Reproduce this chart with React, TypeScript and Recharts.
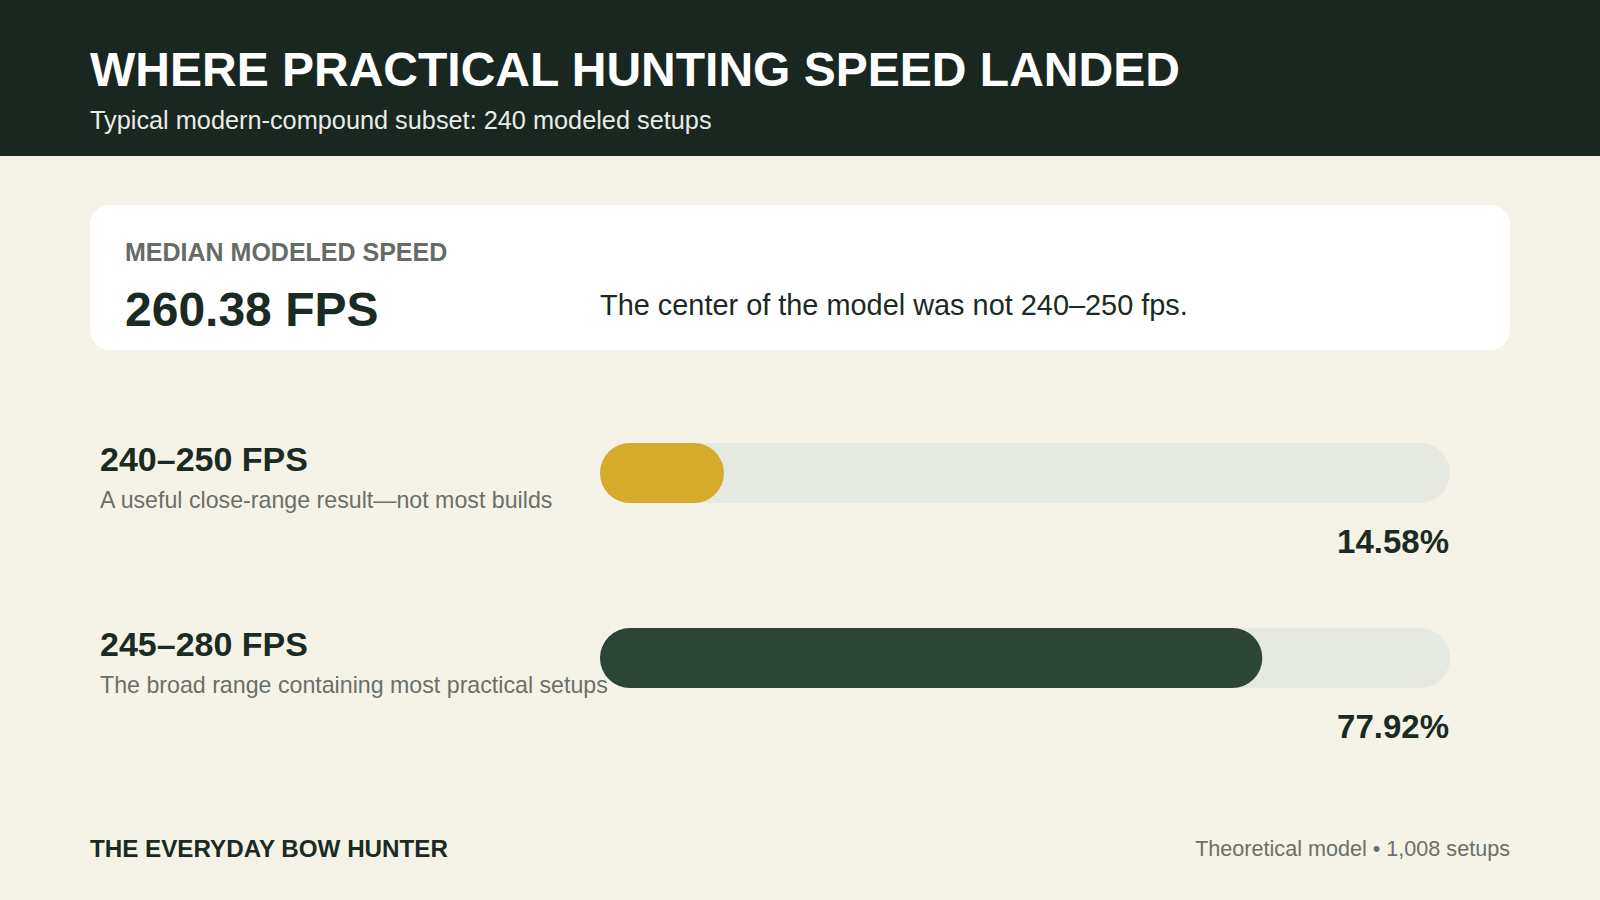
import { BarChart, Bar, XAxis, YAxis, Cell, LabelList } from 'recharts';

const ranges = ['240–250 FPS', '245–280 FPS'];
const notes = [
  'A useful close-range result—not most builds',
  'The broad range containing most practical setups',
];
const shares = [14.58, 77.92];
const barColors = ['#d6aa2a', '#2c4536'];

const data = ranges.map((range, i) => ({ range, note: notes[i], share: shares[i] }));

const FONT = '"Liberation Sans", Arial, Helvetica, sans-serif';
const DARK = '#1b2a22';
const GRAY = '#6b6f69';

// two-line category label on the left of each track
const RangeTick = (props: any) => {
  const { y, payload, index } = props;
  const row = data[index] ?? data.find((d) => d.range === payload.value);
  return (
    <g>
      <text x={100} y={y - 1.5} fill={DARK} fontSize={34} fontWeight={700} fontFamily={FONT}>
        {payload.value}
      </text>
      <text x={100} y={y + 35.5} fill={GRAY} fontSize={23.2} fontFamily={FONT}>
        {row?.note}
      </text>
    </g>
  );
};

const Track = (props: any) => {
  const { x, y, width, height } = props;
  return <rect x={x} y={y} width={width} height={height} rx={height / 2} ry={height / 2} fill="#e6e8e2" />;
};

const PctLabel = (props: any) => {
  const { x, y, width, height, value } = props;
  const trackEnd = x + (width * 100) / value;
  return (
    <text
      x={trackEnd - 1}
      y={y + height + 50}
      textAnchor="end"
      fill={DARK}
      fontSize={33}
      fontWeight={700}
      fontFamily={FONT}
    >
      {value.toFixed(2)}%
    </text>
  );
};

const App = () => {
  return (
    <div
      style={{
        position: 'absolute',
        left: 0,
        top: 0,
        width: 1600,
        height: 900,
        background: '#f5f3e8',
        fontFamily: FONT,
        overflow: 'hidden',
      }}
    >
      {/* Header band */}
      <div style={{ position: 'absolute', left: 0, top: 0, width: 1600, height: 156, background: '#1a2721' }} />
      <div
        style={{
          position: 'absolute',
          left: 90,
          top: 45.5,
          fontSize: 48,
          lineHeight: 1,
          fontWeight: 700,
          color: '#ffffff',
          whiteSpace: 'nowrap',
        }}
      >
        WHERE PRACTICAL HUNTING SPEED LANDED
      </div>
      <div
        style={{
          position: 'absolute',
          left: 90,
          top: 107.5,
          fontSize: 25.3,
          lineHeight: 1,
          color: '#e9ece6',
          whiteSpace: 'nowrap',
        }}
      >
        Typical modern-compound subset: 240 modeled setups
      </div>

      {/* Median card */}
      <div
        style={{
          position: 'absolute',
          left: 90,
          top: 205,
          width: 1420,
          height: 145,
          background: '#ffffff',
          borderRadius: 20,
        }}
      />
      <div
        style={{
          position: 'absolute',
          left: 125,
          top: 240,
          fontSize: 25,
          lineHeight: 1,
          fontWeight: 700,
          color: '#656b65',
          whiteSpace: 'nowrap',
        }}
      >
        MEDIAN MODELED SPEED
      </div>
      <div
        style={{
          position: 'absolute',
          left: 125,
          top: 286,
          fontSize: 48,
          lineHeight: 1,
          fontWeight: 700,
          color: DARK,
          whiteSpace: 'nowrap',
        }}
      >
        260.38 FPS
      </div>
      <div
        style={{
          position: 'absolute',
          left: 600,
          top: 291,
          fontSize: 28.9,
          lineHeight: 1,
          color: DARK,
          whiteSpace: 'nowrap',
        }}
      >
        The center of the model was not 240–250 fps.
      </div>

      {/* Bars */}
      <div style={{ position: 'absolute', left: 0, top: 379.5 }}>
        <BarChart
          width={1600}
          height={370}
          data={data}
          layout="vertical"
          margin={{ top: 0, right: 150, bottom: 0, left: 90 }}
        >
          <XAxis type="number" domain={[0, 100]} hide />
          <YAxis
            type="category"
            dataKey="range"
            width={510}
            axisLine={false}
            tickLine={false}
            tick={<RangeTick />}
          />
          <Bar
            dataKey="share"
            barSize={60}
            radius={30}
            background={<Track />}
            isAnimationActive={false}
          >
            {data.map((_, i) => (
              <Cell key={`cell-${i}`} fill={barColors[i]} />
            ))}
            <LabelList dataKey="share" content={<PctLabel />} />
          </Bar>
        </BarChart>
      </div>

      {/* Footer */}
      <div
        style={{
          position: 'absolute',
          left: 90,
          top: 837,
          fontSize: 24.2,
          lineHeight: 1,
          fontWeight: 700,
          color: DARK,
          whiteSpace: 'nowrap',
        }}
      >
        THE EVERYDAY BOW HUNTER
      </div>
      <div
        style={{
          position: 'absolute',
          right: 90,
          top: 837.5,
          fontSize: 21.6,
          lineHeight: 1,
          color: GRAY,
          whiteSpace: 'nowrap',
        }}
      >
        Theoretical model • 1,008 setups
      </div>
    </div>
  );
};

export default App;
